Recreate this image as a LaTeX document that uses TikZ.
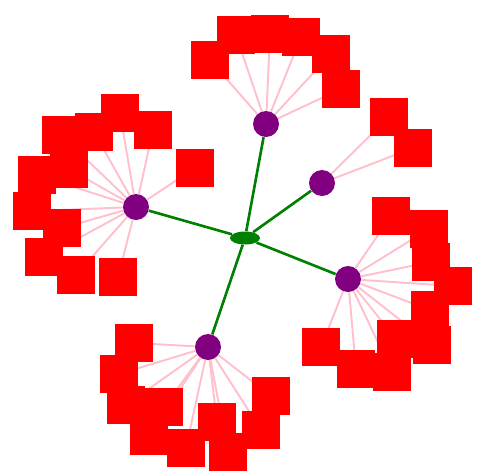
\documentclass[tikz,border=0pt]{standalone}
\usepackage{tikz}
\usetikzlibrary{shapes.geometric, backgrounds}

\definecolor{hubpurple}{RGB}{128,0,128}
\definecolor{linkgreen}{RGB}{0,128,0}
\definecolor{leafpink}{RGB}{255,192,203}

\begin{document}
\begin{tikzpicture}[x=0.02cm, y=-0.02cm]
    \tikzset{
    root/.style={
        ellipse,
        fill=linkgreen,
        inner sep=0pt,
        minimum width=0.6cm,
        minimum height=0.26cm
    },
    hub/.style={
        circle,
        fill=hubpurple,
        inner sep=0pt,
        minimum size=0.52cm
    },
    leaf/.style={
        rectangle,
        fill=red,
        inner sep=0pt,
        minimum size=0.77cm
    },
    trunk/.style={
        line width=1.5pt,
        linkgreen
    },
    twig/.style={
        line width=1.1pt,
        leafpink
    }
}
        \useasboundingbox (0,0) rectangle (483,474);

        \node[root] (Root) at (245,238) {};

        \node[hub] (Top) at (266,124) {};
        \node[hub] (Upper) at (322,183) {};
        \node[hub] (Right) at (348,279) {};
        \node[hub] (Bottom) at (208,347) {};
        \node[hub] (Left) at (136,207) {};

        % top group
        \node[leaf] (t1) at (210,60) {};
        \node[leaf] (t2) at (236,35) {};
        \node[leaf] (t3) at (270,34) {};
        \node[leaf] (t4) at (301,37) {};
        \node[leaf] (t5) at (331,54) {};
        \node[leaf] (t6) at (341,89) {};

        % upper group
        \node[leaf] (u1) at (389,117) {};
        \node[leaf] (u2) at (413,148) {};

        % right group
        \node[leaf] (r1) at (391,216) {};
        \node[leaf] (r2) at (429,229) {};
        \node[leaf] (r3) at (431,262) {};
        \node[leaf] (r4) at (453,286) {};
        \node[leaf] (r5) at (430,310) {};
        \node[leaf] (r6) at (432,345) {};
        \node[leaf] (r7) at (396,339) {};
        \node[leaf] (r8) at (392,372) {};
        \node[leaf] (r9) at (356,369) {};
        \node[leaf] (r10) at (321,347) {};

        % bottom group
        \node[leaf] (b1) at (134,343) {};
        \node[leaf] (b2) at (119,374) {};
        \node[leaf] (b3) at (126,405) {};
        \node[leaf] (b4) at (164,407) {};
        \node[leaf] (b5) at (149,436) {};
        \node[leaf] (b6) at (186,448) {};
        \node[leaf] (b7) at (217,422) {};
        \node[leaf] (b8) at (228,452) {};
        \node[leaf] (b9) at (261,430) {};
        \node[leaf] (b10) at (271,396) {};

        % left group
        \node[leaf] (l1) at (120,113) {};
        \node[leaf] (l2) at (94,132) {};
        \node[leaf] (l3) at (61,135) {};
        \node[leaf] (l4) at (153,130) {};
        \node[leaf] (l5) at (195,168) {};
        \node[leaf] (l6) at (69,169) {};
        \node[leaf] (l7) at (37,175) {};
        \node[leaf] (l8) at (32,211) {};
        \node[leaf] (l9) at (62,228) {};
        \node[leaf] (l10) at (44,257) {};
        \node[leaf] (l11) at (76,275) {};
        \node[leaf] (l12) at (118,277) {};

        \begin{scope}[on background layer]
        \draw [twig] (Top) -- (t1.center);
        \draw [twig] (Top) -- (t2.center);
        \draw [twig] (Top) -- (t3.center);
        \draw [twig] (Top) -- (t4.center);
        \draw [twig] (Top) -- (t5.center);
        \draw [twig] (Top) -- (t6.center);

        \draw [twig] (Upper) -- (u1.center);
        \draw [twig] (Upper) -- (u2.center);

        \draw [twig] (Right) -- (r1.center);
        \draw [twig] (Right) -- (r2.center);
        \draw [twig] (Right) -- (r3.center);
        \draw [twig] (Right) -- (r4.center);
        \draw [twig] (Right) -- (r5.center);
        \draw [twig] (Right) -- (r6.center);
        \draw [twig] (Right) -- (r7.center);
        \draw [twig] (Right) -- (r8.center);
        \draw [twig] (Right) -- (r9.center);
        \draw [twig] (Right) -- (r10.center);

        \draw [twig] (Bottom) -- (b1.center);
        \draw [twig] (Bottom) -- (b2.center);
        \draw [twig] (Bottom) -- (b3.center);
        \draw [twig] (Bottom) -- (b4.center);
        \draw [twig] (Bottom) -- (b5.center);
        \draw [twig] (Bottom) -- (b6.center);
        \draw [twig] (Bottom) -- (b7.center);
        \draw [twig] (Bottom) -- (b8.center);
        \draw [twig] (Bottom) -- (b9.center);
        \draw [twig] (Bottom) -- (b10.center);

        \draw [twig] (Left) -- (l1.center);
        \draw [twig] (Left) -- (l2.center);
        \draw [twig] (Left) -- (l3.center);
        \draw [twig] (Left) -- (l4.center);
        \draw [twig] (Left) -- (l5.center);
        \draw [twig] (Left) -- (l6.center);
        \draw [twig] (Left) -- (l7.center);
        \draw [twig] (Left) -- (l8.center);
        \draw [twig] (Left) -- (l9.center);
        \draw [twig] (Left) -- (l10.center);
        \draw [twig] (Left) -- (l11.center);
        \draw [twig] (Left) -- (l12.center);
        \end{scope}

        \draw [trunk] (Root) -- (Top);
        \draw [trunk] (Root) -- (Upper);
        \draw [trunk] (Root) -- (Right);
        \draw [trunk] (Root) -- (Bottom);
        \draw [trunk] (Root) -- (Left);
    \end{tikzpicture}
\end{document}
